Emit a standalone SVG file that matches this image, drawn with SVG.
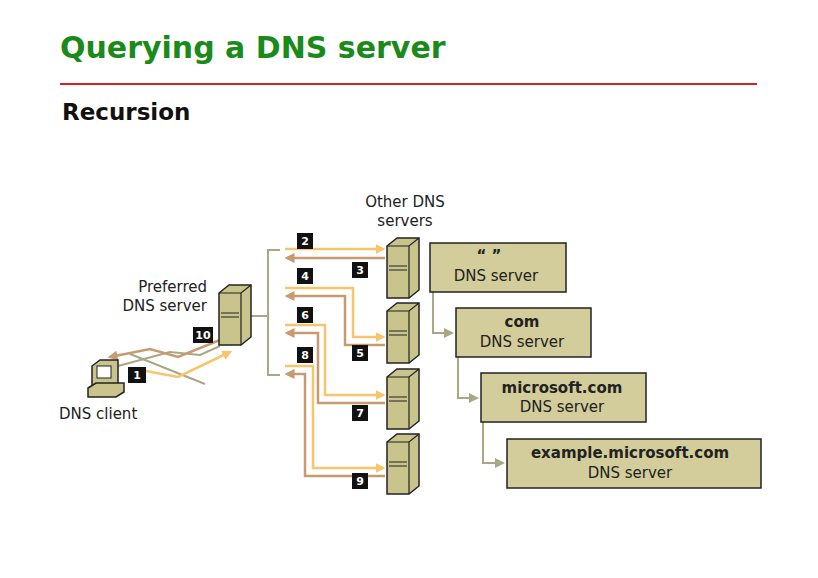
<svg xmlns="http://www.w3.org/2000/svg" width="818" height="578" viewBox="0 0 818 578">
<style>
.t{font-family:"DejaVu Sans",sans-serif;font-size:15px;fill:#222}
.b{font-weight:bold}
.box{fill:#d2cd9b;stroke:#222;stroke-width:1.5}
.badge{fill:#111}
.bt{font-family:"DejaVu Sans",sans-serif;font-size:11px;font-weight:bold;fill:#fff;text-anchor:middle}
.y{fill:none;stroke:#f7c56b;stroke-width:2.5}
.r{fill:none;stroke:#c89a70;stroke-width:2.5}
.g{fill:none;stroke:#a8a884;stroke-width:2}
</style>
<defs>
<marker id="ay" markerWidth="4" markerHeight="4" refX="3" refY="2" orient="auto" markerUnits="strokeWidth"><path d="M0,0L4,2L0,4z" fill="#f7c56b"/></marker>
<marker id="ar" markerWidth="4" markerHeight="4" refX="3" refY="2" orient="auto" markerUnits="strokeWidth"><path d="M0,0L4,2L0,4z" fill="#c89a70"/></marker>
<marker id="ag" markerWidth="5" markerHeight="5" refX="4" refY="2.5" orient="auto" markerUnits="strokeWidth"><path d="M0,0L5,2.5L0,5z" fill="#a8a884"/></marker>
<g id="srv">
<path d="M0,8 L10,0 L32,0 L32,52 L22,60 L0,60 Z" fill="#c9c48c" stroke="#222" stroke-width="1.5"/>
<path d="M0,8 L22,8 L32,0 M22,8 L22,60" fill="none" stroke="#222" stroke-width="1.2"/>
<path d="M2,28 H20 M2,32 H20" stroke="#222" stroke-width="1.2"/>
</g>
</defs>
<text x="60" y="58" style="font-family:'DejaVu Sans',sans-serif;font-size:30px;font-weight:bold;fill:#1a8a1a">Querying a DNS server</text>
<line x1="60" y1="84" x2="757" y2="84" stroke="#d42020" stroke-width="2"/>
<text x="62" y="120" style="font-family:'DejaVu Sans',sans-serif;font-size:23px;font-weight:bold;fill:#111">Recursion</text>

<g id="connectors">
<path class="g" d="M250,316 H268 M280,250 H268 V375 H280"/>
<path class="g" d="M433,292 V333 H452" marker-end="url(#ag)"/>
<path class="g" d="M458,357 V398 H477" marker-end="url(#ag)"/>
<path class="g" d="M483,422 V463 H503" marker-end="url(#ag)"/>
<path class="y" d="M285,249 H383" marker-end="url(#ay)"/>
<path class="r" d="M385,258 H287" marker-end="url(#ar)"/>
<path class="y" d="M285,288 H353 V337 H383" marker-end="url(#ay)"/>
<path class="r" d="M385,345 H345 V296 H287" marker-end="url(#ar)"/>
<path class="y" d="M285,325 H325 V395 H383" marker-end="url(#ay)"/>
<path class="r" d="M385,403 H318 V333 H287" marker-end="url(#ar)"/>
<path class="y" d="M285,366 H313 V468 H383" marker-end="url(#ay)"/>
<path class="r" d="M385,476 H305 V374 H287" marker-end="url(#ar)"/>
<path class="g" d="M118,366 L170,352 L200,355 L220,346"/>
<path class="g" d="M130,354 L175,372 L205,384"/>
<path class="r" d="M220,340 L178,357 L150,349 L110,357" marker-end="url(#ar)"/>
<path class="y" d="M130,368 L178,377 L230,352" marker-end="url(#ay)"/>
</g>

<g id="client">
<path d="M92,366 L100,360 L118,360 L118,385 L92,385 Z" fill="#c9c48c" stroke="#222" stroke-width="1.5"/>
<rect x="97" y="366" width="14" height="12" fill="#fff" stroke="#222"/>
<path d="M88,388 L96,383 L124,383 L124,392 L116,397 L88,397 Z" fill="#c9c48c" stroke="#222" stroke-width="1.5"/>
<text class="t" x="59" y="419">DNS client</text>
</g>
<g id="preferred">
<use href="#srv" x="219" y="285"/>
<text class="t" x="207" y="292" text-anchor="end">Preferred</text>
<text class="t" x="207" y="311" text-anchor="end">DNS server</text>
</g>
<g id="others">
<text class="t" x="405" y="207" text-anchor="middle">Other DNS</text>
<text class="t" x="405" y="226" text-anchor="middle">servers</text>
<use href="#srv" x="387" y="238"/>
<use href="#srv" x="387" y="303"/>
<use href="#srv" x="387" y="369"/>
<use href="#srv" x="387" y="434"/>
</g>
<g id="badges">
<rect class="badge" x="297" y="233" width="16" height="16"/><text class="bt" x="305" y="245">2</text>
<rect class="badge" x="352" y="262" width="16" height="16"/><text class="bt" x="360" y="274">3</text>
<rect class="badge" x="297" y="268" width="16" height="16"/><text class="bt" x="305" y="280">4</text>
<rect class="badge" x="352" y="345" width="16" height="16"/><text class="bt" x="360" y="357">5</text>
<rect class="badge" x="297" y="307" width="16" height="16"/><text class="bt" x="305" y="319">6</text>
<rect class="badge" x="352" y="405" width="16" height="16"/><text class="bt" x="360" y="417">7</text>
<rect class="badge" x="297" y="347" width="16" height="16"/><text class="bt" x="305" y="359">8</text>
<rect class="badge" x="352" y="473" width="16" height="16"/><text class="bt" x="360" y="485">9</text>
<rect class="badge" x="193" y="327" width="20" height="16"/><text class="bt" x="203" y="339">10</text>
<rect class="badge" x="128" y="367" width="18" height="16"/><text class="bt" x="137" y="379">1</text>
</g>
<g id="root"><rect class="box" x="430" y="243" width="136" height="49"/>
<text class="t b" x="489" y="261" text-anchor="middle">“ ”</text>
<text class="t" x="496" y="281" text-anchor="middle">DNS server</text></g>
<g id="com"><rect class="box" x="456" y="308" width="135" height="49"/>
<text class="t b" x="522" y="327" text-anchor="middle">com</text>
<text class="t" x="522" y="347" text-anchor="middle">DNS server</text></g>
<g id="microsoft"><rect class="box" x="481" y="373" width="165" height="49"/>
<text class="t b" x="562" y="393" text-anchor="middle">microsoft.com</text>
<text class="t" x="562" y="412" text-anchor="middle">DNS server</text></g>
<g id="example"><rect class="box" x="507" y="439" width="254" height="49"/>
<text class="t b" x="630" y="458" text-anchor="middle">example.microsoft.com</text>
<text class="t" x="630" y="478" text-anchor="middle">DNS server</text></g>
</svg>
